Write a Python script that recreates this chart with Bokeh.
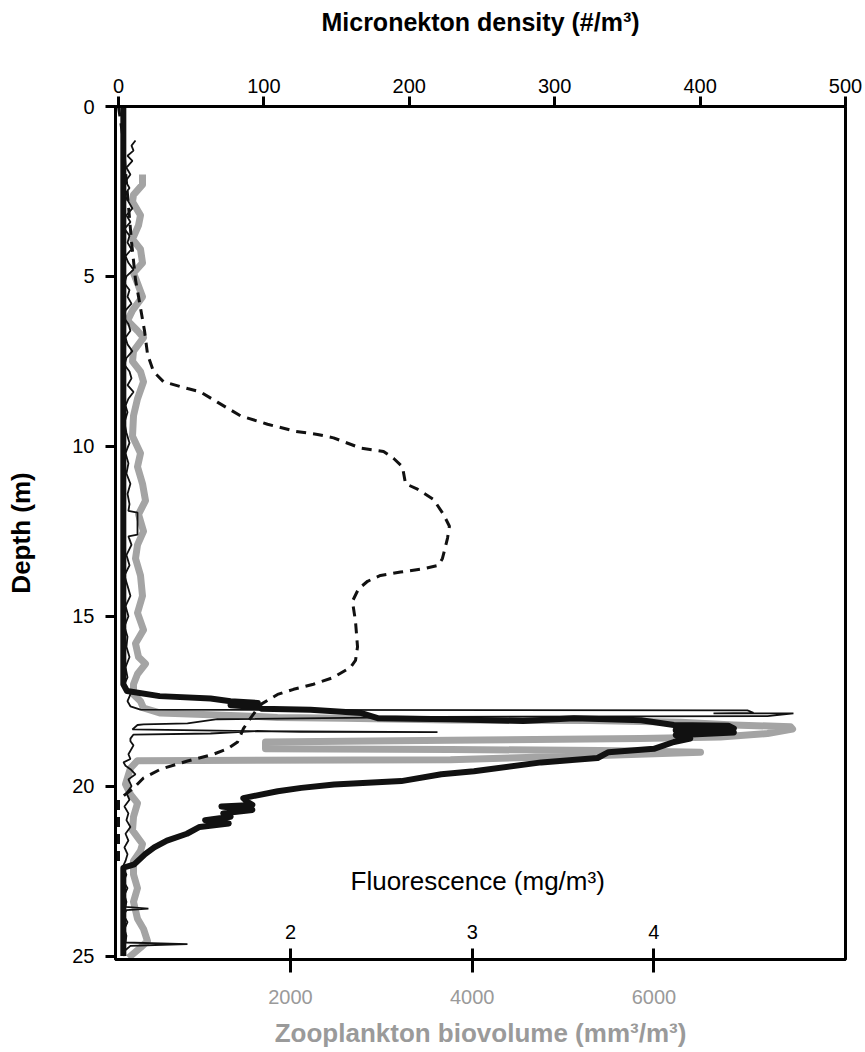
from bokeh.plotting import figure
from bokeh.models import Range1d, LinearAxis, FixedTicker
from bokeh.core.properties import value
from bokeh.embed import file_html
from bokeh.resources import INLINE

# ---------------- data ----------------
# Micronekton density (#/m3) vs depth (m) - dashed line
mic_depth = [0, 0.8, 2.5, 4.0, 5.1, 5.6, 6.6, 7.3, 7.8, 8.1, 8.3, 8.4, 8.7, 9.1, 9.35,
             9.56, 9.65, 9.75, 10.05, 10.15, 10.35, 10.6, 11.1, 11.26, 11.56, 12.0,
             12.35, 12.7, 13.3, 13.5, 13.6, 13.7, 13.8, 13.97, 14.2, 14.56, 15.15,
             15.9, 16.3, 16.5, 16.8, 17.0, 17.15, 17.3, 17.6, 18.0, 18.3, 18.7, 18.9,
             19.06, 19.26, 19.5, 19.76, 20.06, 20.4, 22.3]
mic_dens = [0, 2.7, 6, 9, 11.7, 13.8, 17.9, 20, 24.1, 31, 47.5, 56.4, 68, 83.9, 102.5,
            122, 136.9, 147.9, 166.4, 182.3, 189.1, 195.3, 197.4, 205.6, 216.6, 223.5,
            227.6, 226.3, 222.8, 220.1, 209.8, 194, 180.2, 171.3, 165, 160.9, 163,
            164.4, 163, 159.6, 147.9, 134.1, 120.4, 109.4, 97.6, 90.8, 86, 81.9, 75,
            65.3, 47.5, 28.9, 17.2, 10.3, 0, 0]

# Fluorescence (mg/m3) - thick black profile
fl_depth = [0, 17.0, 17.2, 17.35, 17.42, 17.5, 17.55, 17.62, 17.68, 17.72, 17.75, 17.85,
            18.0, 18.03, 18.08, 18.0, 18.06, 18.2, 18.22, 18.3, 18.35, 18.42, 18.5, 18.6,
            18.7, 18.9, 19.0, 19.17, 19.3, 19.56, 19.65, 19.85, 19.95, 20.05, 20.15,
            20.35, 20.45, 20.55, 20.6, 20.7, 20.8, 20.9, 21.0, 21.1, 21.2, 21.4, 21.6,
            21.8, 22.0, 22.3, 22.4, 25.0]
fl_val = [1.08, 1.08, 1.10, 1.28, 1.56, 1.67, 1.82, 1.67, 1.83, 1.84, 2.11, 2.39,
          2.48, 2.88, 3.28, 3.56, 3.93, 4.11, 4.41, 4.44, 4.12, 4.44, 4.12, 4.20,
          4.11, 4.00, 3.75, 3.69, 3.38, 3.01, 2.83, 2.61, 2.24, 2.06, 1.93,
          1.74, 1.76, 1.79, 1.62, 1.79, 1.63, 1.67, 1.53, 1.66, 1.50, 1.43, 1.32,
          1.25, 1.20, 1.14, 1.08, 1.08]

# Fluorescence, fine-resolution profile (thin black)
fr_depth = [1.0, 1.15, 1.3, 1.45, 1.6, 1.8, 2.0, 2.2, 2.4, 2.6, 2.8, 3.0, 3.2, 3.4, 3.6,
            3.8, 4.0, 4.2, 4.4, 4.6, 4.8, 5.0, 5.2, 5.4, 5.6, 5.8, 6.0, 6.2, 6.4, 6.6,
            6.8, 7.0, 7.2, 7.4, 7.6, 7.8, 8.0, 8.2, 8.4, 8.6, 8.8, 9.0, 9.3, 9.6, 9.9,
            10.2, 10.5, 10.8, 11.1, 11.4, 11.7, 11.9, 11.95, 12.6, 12.65, 12.9, 13.2,
            13.5, 13.8, 14.1, 14.4, 14.7, 15.0, 15.3, 15.6, 15.9, 16.2, 16.5, 16.8,
            17.0, 17.3, 17.5, 17.65, 17.75, 17.77, 17.84, 17.86, 17.86, 17.94, 17.96,
            18.03, 18.15, 18.18, 18.2, 18.33, 18.38, 18.41, 18.4, 18.38, 18.45, 18.48,
            18.6, 18.68, 18.8, 19.06, 19.2, 19.3, 19.4, 19.5, 19.65, 19.8, 20.0, 20.2,
            20.4, 20.6, 20.8, 21.0, 21.2, 21.4, 21.6, 21.8, 22.0, 22.2, 22.4, 22.6,
            22.8, 23.0, 23.2, 23.4, 23.55, 23.6, 23.65, 23.8, 24.0, 24.2, 24.4, 24.6,
            24.65, 24.7, 24.85, 25.0]
fr_val = [1.147, 1.125, 1.136, 1.103, 1.130, 1.097, 1.119, 1.092, 1.114, 1.086, 1.108,
          1.130, 1.097, 1.119, 1.086, 1.114, 1.103, 1.125, 1.092, 1.108, 1.136, 1.097,
          1.086, 1.114, 1.103, 1.125, 1.092, 1.081, 1.108, 1.119, 1.092, 1.103, 1.130,
          1.097, 1.086, 1.114, 1.125, 1.103, 1.136, 1.108, 1.092, 1.103, 1.086, 1.097,
          1.114, 1.092, 1.108, 1.097, 1.119, 1.103, 1.114, 1.108, 1.158, 1.158, 1.108,
          1.125, 1.097, 1.114, 1.086, 1.103, 1.119, 1.092, 1.108, 1.086, 1.103, 1.097,
          1.114, 1.092, 1.103, 1.086, 1.119, 1.103, 1.119, 1.174, 4.515, 4.548, 4.328,
          4.768, 4.625, 2.826, 1.598, 1.433, 1.191, 1.158, 1.130, 1.780, 2.809, 2.055,
          1.818, 1.560, 1.136, 1.119, 1.119, 1.136, 1.108, 1.119, 1.081, 1.092, 1.119,
          1.147, 1.108, 1.125, 1.097, 1.114, 1.086, 1.108, 1.097, 1.119, 1.092, 1.108,
          1.086, 1.103, 1.092, 1.075, 1.097, 1.081, 1.103, 1.086, 1.097, 1.092, 1.218,
          1.097, 1.081, 1.103, 1.086, 1.097, 1.092, 1.433, 1.119, 1.086, 1.081]

# Zooplankton biovolume (mm3/m3) - thick grey
zp_depth = [2.0, 2.3, 2.6, 2.8, 3.2, 3.5, 3.9, 4.2, 4.6, 4.9, 5.2, 5.6, 6.0, 6.3, 6.6,
            6.8, 7.2, 7.5, 7.8, 8.1, 8.6, 9.1, 9.7, 10.2, 10.6, 11.1, 11.6, 12.0, 12.5,
            12.9, 13.3, 13.8, 14.4, 14.9, 15.4, 15.8, 16.2, 16.4, 16.7, 17.0, 17.3,
            17.5, 17.7, 17.85, 17.9, 17.94, 17.98, 18.0, 18.05, 18.07, 18.12, 18.2,
            18.25, 18.32, 18.45, 18.55, 18.6, 18.65, 18.7, 18.9, 18.92, 18.95, 19.0,
            19.1, 19.22, 19.25, 19.47, 19.94, 20.24, 20.5, 20.9, 21.3, 21.7, 21.9,
            22.2, 22.6, 23.0, 23.4, 23.9, 24.2, 24.56, 24.75, 25.05]
zp_val = [371, 371, 272, 261, 349, 327, 261, 349, 371, 272, 316, 371, 261, 206, 316,
          382, 272, 261, 349, 382, 316, 272, 261, 349, 316, 371, 404, 327, 382,
          316, 294, 349, 371, 316, 382, 294, 327, 404, 316, 272, 272,
          349, 382, 569, 1119, 1560, 1857, 2583, 3761, 5302, 6293, 6876,
          7504, 7526, 7250, 6733, 5852, 3761, 1725, 1725, 3761, 5412, 6513,
          5412, 3761, 316, 239, 184, 239, 316, 272, 261, 371, 349,
          272, 272, 316, 272, 316, 382, 426, 349, 216]

mic_ticks = [0, 100, 200, 300, 400, 500]
depth_ticks = [0, 5, 10, 15, 20, 25]
zp_ticks = [2000, 4000, 6000]
fl_ticks = [2, 3, 4]

FONT = "Liberation Sans"
BLACK = "#111111"
GREY_LINE = "#a4a4a4"
GREY_TEXT = "#9a9a9a"

p = figure(width=865, height=1052, output_backend="svg", toolbar_location=None,
           x_range=Range1d(-2.06, 500), y_range=Range1d(25.1, 0),
           x_axis_location="above",
           min_border_left=115, min_border_right=20, min_border_top=106,
           min_border_bottom=93)
p.extra_x_ranges = {"zoop": Range1d(73.8, 8108.9), "fluor": Range1d(1.0369, 5.0545)}
p.xgrid.visible = False
p.ygrid.visible = False
p.outline_line_color = "black"
p.outline_line_width = 3
p.outline_line_alpha = 1
p.background_fill_color = "white"
p.border_fill_color = "white"

# top axis
ax = p.above[0]
ax.ticker = FixedTicker(ticks=mic_ticks)
ax.axis_label = "Micronekton density (#/m³)"
ax.axis_label_text_font = FONT
ax.axis_label_text_font_style = "bold"
ax.axis_label_text_font_size = "25px"
ax.axis_label_text_color = "black"
ax.major_label_text_font = FONT
ax.major_label_text_font_size = "20px"
ax.major_label_text_color = "black"
ax.major_tick_out = 10
ax.major_tick_in = 0
ax.minor_tick_out = 0
ax.minor_tick_in = 0
ax.axis_line_width = 3
ax.major_tick_line_width = 3
ax.major_label_standoff = 4
ax.axis_label_standoff = 40

# left axis
ay = p.left[0]
ay.ticker = FixedTicker(ticks=depth_ticks)
ay.axis_label = "Depth (m)"
ay.axis_label_text_font = FONT
ay.axis_label_text_font_style = "bold"
ay.axis_label_text_font_size = "26px"
ay.axis_label_text_color = "black"
ay.major_label_text_font = FONT
ay.major_label_text_font_size = "20px"
ay.major_label_text_color = "black"
ay.major_tick_out = 10
ay.major_tick_in = 0
ay.minor_tick_out = 0
ay.minor_tick_in = 0
ay.axis_line_width = 3
ay.major_tick_line_width = 3
ay.major_label_standoff = 11
ay.axis_label_standoff = 33

# bottom axis (zooplankton)
bx = LinearAxis(x_range_name="zoop", ticker=FixedTicker(ticks=zp_ticks),
                axis_label="Zooplankton biovolume (mm³/m³)")
bx.axis_label_text_font = FONT
bx.axis_label_text_font_style = "bold"
bx.axis_label_text_font_size = "26px"
bx.axis_label_text_color = GREY_TEXT
bx.major_label_text_font = FONT
bx.major_label_text_font_size = "20px"
bx.major_label_text_color = GREY_TEXT
bx.major_tick_out = 13
bx.major_tick_in = 11
bx.minor_tick_out = 0
bx.minor_tick_in = 0
bx.axis_line_width = 3
bx.major_tick_line_width = 3
bx.major_label_standoff = 17
bx.axis_label_standoff = 11
p.add_layout(bx, "below")

# series
p.line(zp_val, zp_depth, x_range_name="zoop", line_color=GREY_LINE, line_width=7,
       line_join="round")
p.line(fl_val, fl_depth, x_range_name="fluor", line_color=BLACK, line_width=6,
       line_join="round")
p.line(fr_val, fr_depth, x_range_name="fluor", line_color=BLACK, line_width=1.8)
p.line(mic_dens, mic_depth, line_color=BLACK, line_width=3, line_dash="10 7")

# fluorescence scale labels inside the plot, above the shared tick marks
p.text(x=fl_ticks, y=[24.3] * len(fl_ticks), text=[str(t) for t in fl_ticks],
       x_range_name="fluor", text_align="center", text_baseline="middle",
       text_font=value(FONT), text_font_size="20px", text_color="black")
p.text(x=[3.03], y=[22.78], text=["Fluorescence (mg/m³)"], x_range_name="fluor",
       text_align="center", text_baseline="middle", text_font=value(FONT),
       text_font_size="26px", text_color="black")

open("out.html", "w").write(file_html(p, INLINE))
